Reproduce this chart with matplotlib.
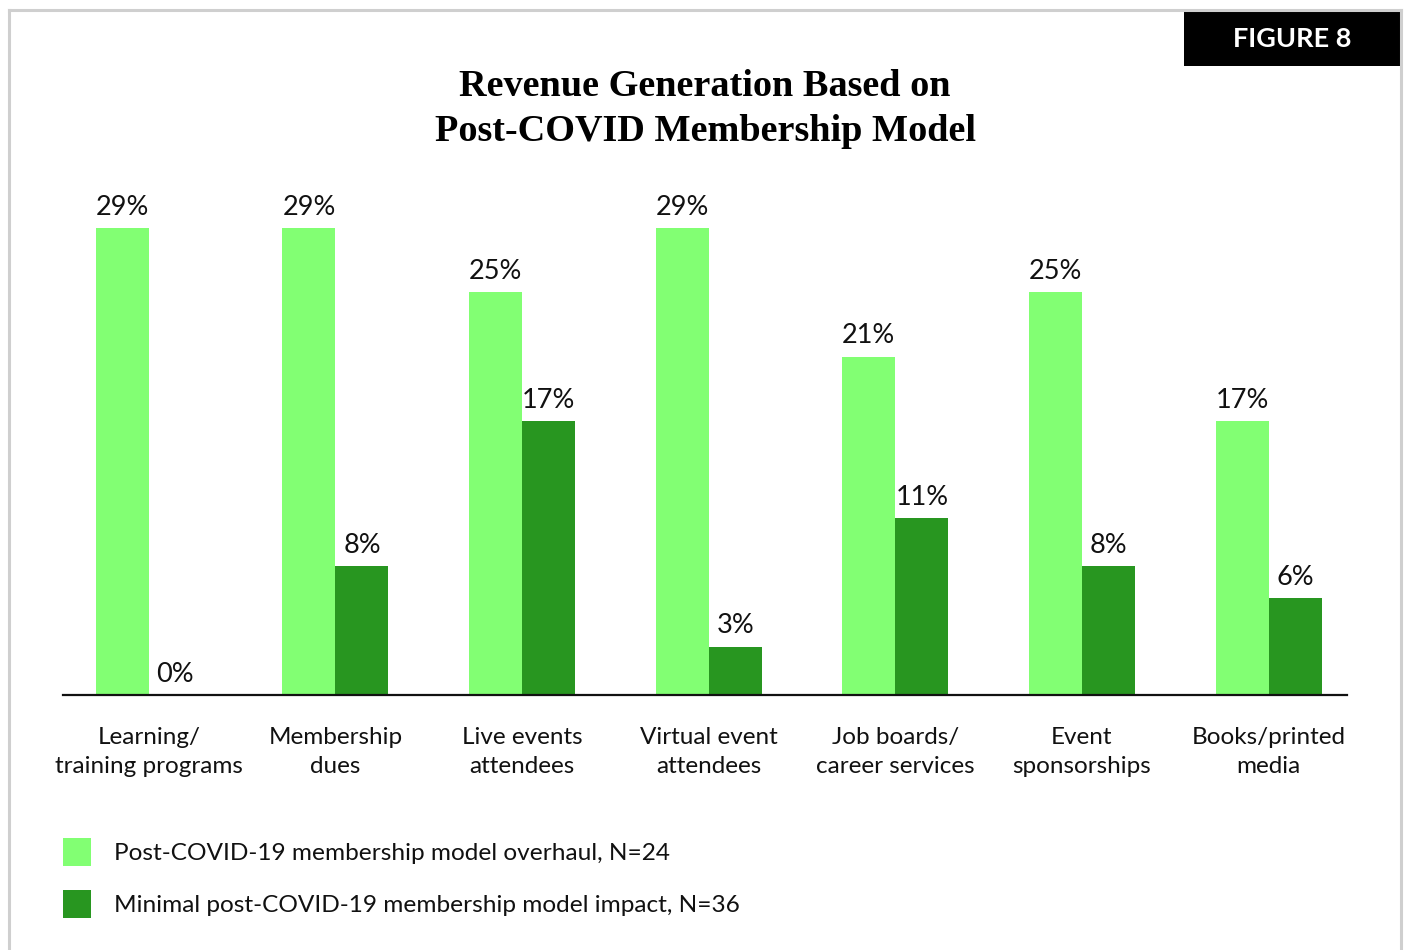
import matplotlib
matplotlib.use("Agg")
import matplotlib.pyplot as plt
from matplotlib.lines import Line2D
from matplotlib.patches import Rectangle
import numpy as np

categories = [
    "Learning/\ntraining programs",
    "Membership\ndues",
    "Live events\nattendees",
    "Virtual event\nattendees",
    "Job boards/\ncareer services",
    "Event\nsponsorships",
    "Books/printed\nmedia",
]
overhaul = [29, 29, 25, 29, 21, 25, 17]
minimal = [0, 8, 17, 3, 11, 8, 6]
series_names = [
    "Post-COVID-19 membership model overhaul, N=24",
    "Minimal post-COVID-19 membership model impact, N=36",
]
title = "Revenue Generation Based on\nPost-COVID Membership Model"
badge = "FIGURE 8"

LIGHT = "#82FF73"
DARK = "#289620"
SANS = ["Lato", "DejaVu Sans"]

W, H = 1405, 950
fig = plt.figure(figsize=(W / 100, H / 100), dpi=100)
fig.patch.set_facecolor("white")

def fx(px):
    return px / W

def fy(py):
    return 1 - py / H

# Axes frame: baseline at y=695 px, plot area 63..1347 px wide
ax_left, ax_right = 63, 1347
ax_bottom, ax_top = 695, 180
ax = fig.add_axes([fx(ax_left), fy(ax_bottom), fx(ax_right - ax_left), (ax_bottom - ax_top) / H])

x = np.arange(len(categories))
bw = 0.284
ax.bar(x - bw / 2, overhaul, width=bw, color=LIGHT, zorder=2)
ax.bar(x + bw / 2, minimal, width=bw, color=DARK, zorder=2)

px_per_unit = (695 - 228) / 29.0
ax.set_ylim(0, (ax_bottom - ax_top) / px_per_unit)
ax.set_xlim(-0.46, 6.42)

for xi, v in zip(x, overhaul):
    ax.annotate(f"{v}%", (xi - bw / 2, v), xytext=(0, 6), textcoords="offset points",
                ha="center", va="bottom", fontsize=19.5, family=SANS, color="#111111")
for xi, v in zip(x, minimal):
    ax.annotate(f"{v}%", (xi + bw / 2, v), xytext=(0, 6), textcoords="offset points",
                ha="center", va="bottom", fontsize=19.5, family=SANS, color="#111111")

for s in ["top", "right", "left"]:
    ax.spines[s].set_visible(False)
ax.spines["bottom"].set_linewidth(1.6)
ax.spines["bottom"].set_color("#111111")
ax.set_yticks([])
ax.set_xticks(x)
ax.set_xticklabels(categories, fontsize=17.5, family=SANS, color="#111111", linespacing=1.45)
ax.tick_params(axis="x", length=0, pad=23)

# Title
fig.text(fx(705), fy(109), title, ha="center", va="center", fontsize=27.5,
         family="Liberation Serif", weight="bold", linespacing=1.38)

# Badge in the top-right corner
fig.patches.append(Rectangle((fx(1184), fy(66)), fx(1400 - 1184), (66 - 12) / H,
                             transform=fig.transFigure, facecolor="black", edgecolor="none"))
fig.text(fx(1292), fy(39), badge, ha="center", va="center", fontsize=19.5,
         family=SANS, weight="bold", color="white")

# Legend
for i, (name, col) in enumerate(zip(series_names, [LIGHT, DARK])):
    top = 838 + i * 52
    fig.patches.append(Rectangle((fx(63), fy(top + 28)), fx(28), 28 / H,
                                 transform=fig.transFigure, facecolor=col, edgecolor="none"))
    fig.text(fx(114), fy(top + 15), name, ha="left", va="center", fontsize=17.6,
             family=SANS, color="#111111")

# Light grey frame around the page
frame = dict(color="#cfcfcf", linewidth=2.2, transform=fig.transFigure)
fig.lines.append(Line2D([fx(9), fx(9)], [fy(10), 0], **frame))
fig.lines.append(Line2D([fx(9), fx(1401)], [fy(10), fy(10)], **frame))
fig.lines.append(Line2D([fx(1401), fx(1401)], [fy(10), 0], **frame))

fig.savefig("out.png", dpi=100, facecolor="white")
